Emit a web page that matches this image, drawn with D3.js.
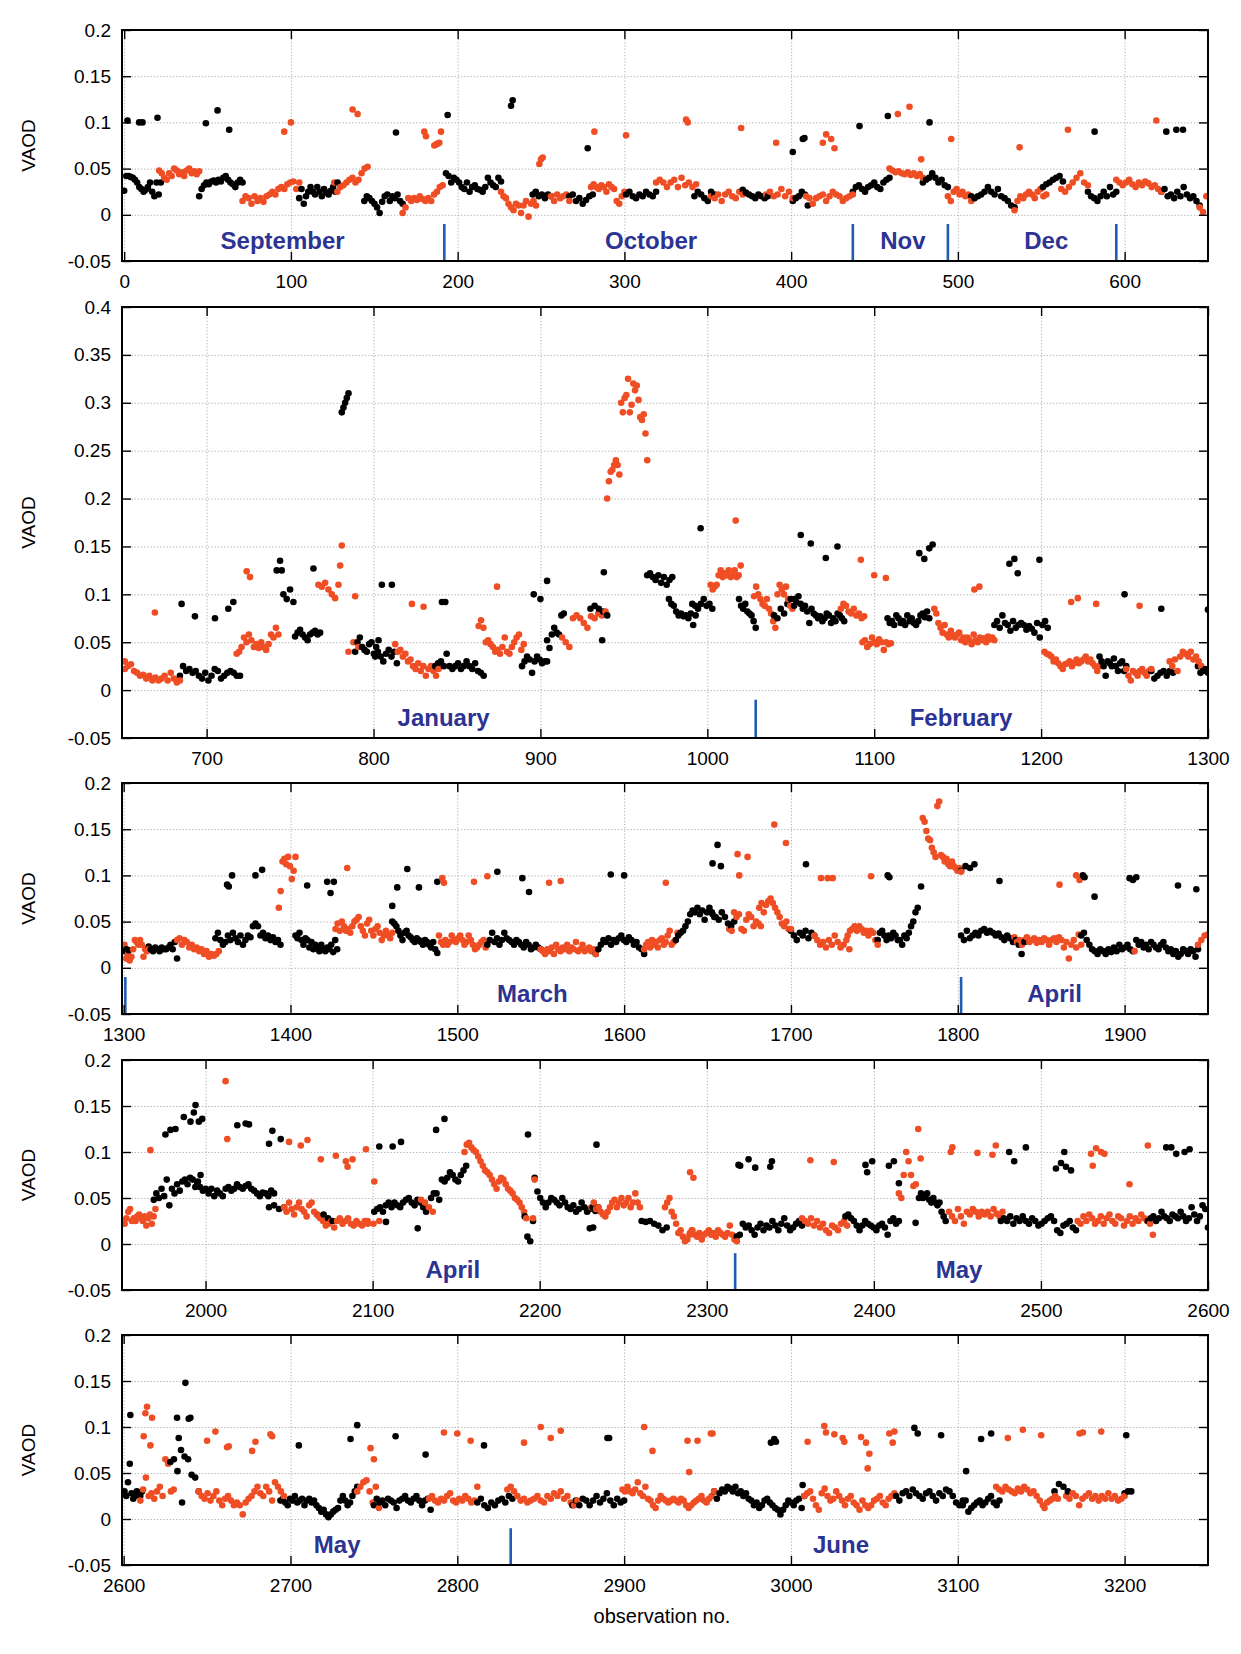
<!DOCTYPE html>
<html>
<head>
<meta charset="utf-8">
<script src="https://cdn.jsdelivr.net/npm/d3@7"></script>
<style>
  body { margin: 0; background: #fff; }
  text { font-family: "Liberation Sans", Arial, Helvetica, sans-serif; }
</style>
</head>
<body>
<svg id="chart"></svg>
<script>
// VAOD values are in thousandths. A run is [firstObs, lastObs, values spread over that span]
const blackRuns = [
  [0, 22, [26,42,42,41,40,38,35,30,28,25,27,30,35,25,20,35,22,35]],
  [45, 71, [20,28,32,35,33,36,37,35,38,36,40,42,38,35,33,30,35,38,35]],
  [105, 128, [18,28,12,20,25,30,25,22,30,25,20,28,24,22,26,30,25,35]],
  [144, 167, [15,20,18,15,12,8,2,14,20,22,15,20,18,22,15,12]],
  [193, 226, [45,42,35,40,38,35,30,28,35,25,30,32,28,27,25,30,40,35,32,30,40,36]],
  [245, 256, [22,25,20,22,18,22,20]],
  [267, 281, [20,22,15,18,12,16,20,22]],
  [301, 319, [22,25,20,18,22,20,25,22,20,25]],
  [342, 354, [20,25,22,18,15,25,22]],
  [371, 386, [27,24,22,20,18,22,20,18,20]],
  [401, 410, [15,18,20,25,22,10]],
  [437, 459, [25,30,32,28,25,30,32,35,30,28,35,38,40]],
  [479, 494, [35,38,40,45,40,35,38,32,30]],
  [508, 534, [20,18,20,22,25,30,25,22,28,20,18,15,10,8]],
  [551, 563, [30,33,35,38,40,42,36]],
  [578, 595, [25,20,18,15,20,25,20,30,22,25]],
  [622, 645, [25,28,20,22,18,25,20,30,22,18,20,15,10]],
  [684, 720, [15,25,20,22,18,20,15,12,18,10,15,22,20,12,15,18,20,18,15,15]],
  [746, 752, [100,95,105,92]],
  [753, 768, [56,60,63,58,55,52,58,60,62,58,60]],
  [789, 803, [40,50,55,45,42,40,48,50,38,45,52]],
  [801, 814, [35,40,35,30,38,42,35,40,28]],
  [837, 866, [25,28,30,25,38,25,22,25,28,22,25,30,25,22,28,20,18,15]],
  [889, 904, [25,30,35,32,18,30,35,32,28,30,30]],
  [904, 914, [52,44,58,65,60,58,78,80]],
  [930, 940, [85,88,85,82,78]],
  [964, 979, [120,122,118,115,120,112,118,110,115,118]],
  [977, 993, [95,90,88,82,78,80,77,78,75,80,68,78]],
  [991, 1003, [90,88,85,90,95,88,90,85]],
  [1019, 1029, [95,88,85,90,82,80,78,72,65]],
  [1040, 1052, [78,75,85,80,90,95,88]],
  [1052, 1082, [95,92,98,90,85,88,82,70,85,80,78,75,77,72,75,80,78,70,75,72,80,78,75,72]],
  [1108, 1133, [75,70,72,68,78,75,70,72,68,78,72,75,70,68,72,78,80,76,82,75]],
  [1172, 1204, [68,72,65,78,70,68,62,72,65,68,70,68,63,67,64,60,70,55,68,72,65]],
  [1235, 1251, [35,30,25,15,30,28,25,33,25,20,28,30,20,25]],
  [1266, 1279, [20,12,15,18,20,15,20,18]],
  [1294, 1300, [25,18,20,22,18]],
  [1300.5, 1303, [18,20,19]],
  [1315, 1332, [23,20,18,22,20,18,22,20,20,22,25,20,28,10]],
  [1355, 1394, [32,38,30,25,28,35,30,38,32,28,35,25,30,35,33,45,48,45,35,38,32,35,30,33,28,30,25]],
  [1403, 1428, [35,32,38,30,25,32,30,22,28,20,25,22,18,25,20,18,22,20,25,17,30,20]],
  [1461, 1488, [50,48,45,40,35,30,38,40,35,33,30,28,32,30,28,25,30,28,25,22,28,20,16]],
  [1518, 1550, [25,30,38,28,32,25,30,38,32,30,28,25,30,28,25,22,28,25,20,22,25,22,20]],
  [1583, 1612, [15,20,25,30,28,32,25,30,28,32,35,30,28,33,30,25,28,22,20,15]],
  [1631, 1654, [30,35,38,40,45,50,58,62,60,65,58,62,52,60,65,60,55]],
  [1653, 1666, [58,55,52,60,55,48,45,50]],
  [1700, 1714, [40,35,30,38,35,40,32,38,35]],
  [1752, 1776, [30,38,40,35,30,35,32,38,35,30,30,25,35,32,38,45,50,60,65]],
  [1802, 1810, [105,110,108,112]],
  [1802, 1840, [35,30,40,32,35,38,35,40,42,38,40,38,35,37,33,30,35,32,28,30,25,15,28]],
  [1874, 1905, [35,38,30,25,20,18,15,20,18,15,20,17,22,18,25,20,22,25,20,18]],
  [1907, 1944, [30,25,28,22,25,20,28,25,22,20,25,28,22,18,20,15,18,12,15,20,18,15,20,18,12,20]],
  [1969, 1997, [48,55,50,60,52,70,42,60,55,65,58,68,70,65,72,70,62,68,75]],
  [1995, 2041, [65,62,58,60,55,60,52,58,55,52,60,62,58,60,65,62,60,63,65,60,58,55,52,56,55,52,58,55]],
  [2038, 2047, [40,42,38,40]],
  [2068, 2076, [30,32,28,25]],
  [2101, 2132, [35,38,40,35,42,45,40,45,42,40,45,48,50,45,42,48,45,40,35]],
  [2135, 2156, [50,55,55,48,70,68,72,78,75,70,68,75,80,85]],
  [2191, 2196, [30,8,3,25]],
  [2197, 2235, [72,57,50,45,40,45,50,48,45,42,50,45,40,38,42,35,38,45,40,35,38,40,36,40]],
  [2261, 2276, [25,24,25,22,20,15,18]],
  [2318, 2357, [8,10,22,18,20,15,10,18,22,15,20,18,25,20,15,22,28,20,15,18,22,25,20]],
  [2383, 2415, [30,32,28,25,20,15,20,25,22,20,18,15,20,22,18,10,25,28,22,25]],
  [2427, 2443, [50,55,50,52,55,48,45,50,45,42,45,35,30,25]],
  [2476, 2521, [25,28,25,30,22,28,25,30,25,22,28,25,20,22,25,28,30,25,15,12,20,22,25,18,15]],
  [2564, 2600, [25,28,30,25,28,35,30,28,25,32,30,28,35,30,25,28,40,32,25,30,42,38,18]],
  [2600.5, 2611, [30,25,40,60,28,22,25,30,28,25,30]],
  [2628, 2645, [62,65,52,75,68,65,48,45,30]],
  [2694, 2740, [20,22,18,15,22,20,25,18,20,22,15,20,22,18,20,15,12,8,10,5,2,5,8,10,12,20,25,20,15,18,25,30,35]],
  [2750, 2784, [15,22,18,20,15,22,20,18,12,20,22,25,20,18,22,25,20,15,20,22,10]],
  [2812, 2833, [18,22,15,12,18,15,20,22,18,25,22]],
  [2869, 2900, [15,20,15,22,20,15,20,25,18,22,28,20,15,22,18,20]],
  [2954, 3008, [30,22,28,32,30,35,33,30,35,28,30,25,28,22,20,15,18,12,15,20,22,18,15,12,10,5,10,15,20,18,15,20,22,12,25]],
  [3063, 3103, [25,20,28,30,25,32,28,25,22,28,30,25,20,28,25,32,30,25,18,15,20]],
  [3103, 3125, [15,20,8,12,15,18,20,15,18,22,25,18,15,20]],
  [3158, 3166, [30,38,35,30]],
  [3200, 3204, [28,30,30]]
];

const redRuns = [
  [21, 45, [48,45,40,38,45,42,50,48,44,46,42,48,50,45,47,44,47]],
  [71, 105, [15,20,18,12,20,15,18,14,20,22,25,22,28,30,28,33,35,36,28,35]],
  [126, 146, [35,25,30,32,35,38,40,35,38,45,50,52]],
  [167, 191, [2,8,18,15,18,16,20,17,15,18,15,22,25,30,32]],
  [226, 247, [25,20,18,12,8,5,12,10,2,10,15,-2,12,15,10]],
  [256, 267, [20,15,22,18,20,22,15]],
  [280, 300, [30,33,30,28,32,30,25,33,30,28,15,12,20,25]],
  [319, 343, [35,38,35,30,35,38,30,40,32,35,30,33]],
  [352, 371, [20,18,22,15,22,25,20,18,25,22]],
  [385, 401, [22,25,20,22,28,20,25,18]],
  [409, 437, [20,18,12,18,20,22,15,20,25,22,20,15,18,20,22]],
  [459, 479, [50,48,46,47,45,44,46,43,45,42,44,40]],
  [494, 508, [20,15,25,28,22,25,20,22,15]],
  [534, 553, [5,15,20,18,22,25,22,18,25,28,20,22]],
  [562, 578, [28,25,30,35,40,45,35,32]],
  [595, 622, [38,35,32,35,38,33,30,35,32,36,34,30,32,28,25]],
  [645, 651, [8,3,20,30]],
  [651, 684, [22,25,27,20,18,15,16,12,15,10,13,10,12,15,10,18,12,8,10]],
  [718, 743, [38,40,45,55,50,58,52,45,48,44,50,45,42,48,58,55,65,58]],
  [767, 779, [110,108,112,105,100,96,110]],
  [785, 791, [40,50,45]],
  [813, 839, [48,40,42,35,38,30,32,25,22,28,20,25,15,22,25,20,15,22]],
  [863, 890, [67,73,65,50,52,48,45,40,42,38,45,55,40,38,45,50,55,58,42,48]],
  [913, 939, [55,50,45,75,78,75,70,65,77,75,80,78,82]],
  [940, 964, [200,218,228,230,235,240,235,225,300,290,305,308,325,290,298,320,313,318,303,285,282,288,268,240]],
  [1002, 1020, [110,105,108,110,120,125,118,122,120,125,118,120,125,118,120,130]],
  [1028, 1051, [98,108,100,95,90,88,95,85,80,72,65,100,110,105,100,108,95,88,85]],
  [1080, 1094, [85,90,88,82,80,85,78,80,75,77]],
  [1093, 1110, [50,52,45,48,55,50,48,53,50,42,50,48,49]],
  [1136, 1172, [85,80,70,65,60,68,58,55,62,57,55,58,60,52,55,50,55,52,48,58,52,50,55,52,54,50,56,53,55,52]],
  [1202, 1235, [40,38,37,35,30,32,28,25,22,27,28,30,25,28,32,28,30,32,35,30,32,28,25,20,25]],
  [1251, 1266, [22,15,10,20,18,15,20,22,18,15,20,22]],
  [1277, 1296, [30,25,32,20,35,40,38,35,40,32,35,30,25]],
  [1300.5, 1315, [25,10,15,8,12,20,30,28,25,30,25,12,20,18,20]],
  [1332, 1357, [30,32,25,30,28,22,25,20,22,18,20,15,18,12,15,13,15,18]],
  [1393, 1403, [65,83,115,118,112,120,110,96,105,120]],
  [1427, 1461, [42,48,40,50,45,40,42,38,45,50,52,55,45,40,35,48,52,40,35,42,45,38,30,35,40,35,32,38]],
  [1489, 1517, [35,28,25,30,25,28,35,30,28,32,35,30,25,28,35,30,25,20,22,25,28,30,22]],
  [1550, 1583, [20,18,15,20,18,22,15,25,20,18,22,20,25,18,22,20,28,18,20,25,18,20,22,18,20,15]],
  [1612, 1632, [20,25,28,22,30,25,28,22,30,32,25,28,35,40,25,28,30,38]],
  [1663, 1682, [42,40,60,55,58,42,40,52,58,55,45,50,48,45]],
  [1681, 1700, [65,70,60,68,72,75,70,65,60,55,48,45,50,42,42]],
  [1714, 1735, [35,30,25,28,22,30,25,35,28,22,25,30,20]],
  [1734, 1752, [35,40,42,45,40,45,42,38,40,35,40,38,30,25]],
  [1779, 1802, [162,158,148,140,138,130,125,120,175,180,122,120,115,118,112,110,115,110,108,105,108,104]],
  [1834, 1874, [33,28,30,25,30,33,28,30,32,27,30,28,32,30,25,30,32,28,33,30,22,28,10,25,30,22,36,25]],
  [1944, 1950, [25,30,35,36]],
  [1950.5, 1970, [25,22,28,35,38,25,28,25,30,32,28,25,30,20,28,32,22,30,38]],
  [2047, 2068, [40,35,45,38,32,40,45,38,35,30,42,45,35,32,30]],
  [2067, 2097, [32,28,25,20,22,25,18,25,28,22,25,28,22,20,25,22,20,25,22]],
  [2097, 2104, [25,22,25]],
  [2129, 2136, [48,45,40,35]],
  [2155, 2192, [100,108,110,105,102,100,95,90,85,80,78,75,70,65,60,68,72,70,65,60,58,55,50,48,45,40,35,28]],
  [2231, 2260, [40,45,38,40,35,32,30,35,40,45,48,40,45,50,42,45,50,40,45,55,45,40]],
  [2275, 2291, [40,45,50,35,30,22,12,15,8,3,5,10,15]],
  [2290, 2318, [12,15,10,8,12,5,10,12,15,10,12,8,15,12,10,8,12,20,10,5,3]],
  [2357, 2384, [28,25,22,28,20,25,18,22,15,12,20,18,15,22,25,20]],
  [2415, 2428, [55,50,75,100,90,75,63,65,125,93]],
  [2445, 2477, [35,30,25,38,30,22,35,32,38,35,30,35,32,35,30,38,33,30,35]],
  [2522, 2567, [25,22,30,25,32,28,22,25,30,22,28,32,25,22,30,28,20,25,30,22,28,25,32,28,25,22,10]],
  [2610, 2630, [20,32,45,25,28,22,30,35,25,65,60,30,32]],
  [2645, 2696, [30,25,22,28,20,25,30,20,15,22,25,20,15,18,15,5,18,22,25,30,35,28,25,35,30,20,40,35,30,25]],
  [2740, 2753, [30,35,40,42,30,18,35,12]],
  [2783, 2812, [22,25,20,18,22,20,25,28,20,18,22,20,25,22,18,20,35]],
  [2830, 2872, [32,35,30,25,20,22,18,20,22,25,20,18,25,22,28,25,30,22,25,18,15,20]],
  [2899, 2954, [32,30,35,30,28,32,40,28,25,35,22,20,15,12,20,25,22,20,18,20,22,20,18,22,20,15,12,15,18,20,22,25,20,18,22,25,30]],
  [3008, 3062, [25,28,30,22,15,10,28,33,25,20,22,30,25,20,15,22,25,18,15,10,20,15,12,15,20,22,25,18,15,22,25,28]],
  [3123, 3151, [35,32,30,35,32,30,28,33,30,35,32,28,30,25,20,15]],
  [3152, 3160, [12,18,20,22,25,22]],
  [3165, 3200, [25,22,28,25,15,22,25,28,22,25,20,25,22,28,22,25,20,22,25]]
];

// isolated observations: [obs, value in thousandths]
const blackSpikes = [
  [2,102],[9,100],[11,100],[20,105],[49,99],[56,113],[63,92],[163,89],[194,108],[232,118],[233,124],
  [278,72],[401,68],[407,82],[408,83],[441,96],[458,107],[483,100],[582,90],[625,90],[631,92],[635,92],
  [685,90],[693,77],[705,75],[713,85],[716,92],[742,125],[744,135],[745,125],[764,127],
  [781,290],[782,295],[783,300],[784,305],[785,310],[805,110],[811,110],[841,92],[843,92],
  [896,100],[900,95],[904,114],[937,52],[938,123],[996,169],[1056,162],[1062,153],[1071,138],[1078,150],
  [1127,143],[1130,137],[1133,148],[1135,152],[1181,132],[1184,137],[1186,122],[1199,136],
  [1250,100],[1272,85],[1300,84],
  [1362,90],[1363,88],[1365,100],[1379,100],[1383,106],[1410,89],[1422,93],[1424,81],[1426,93],
  [1461,67],[1464,87],[1470,107],[1477,87],[1488,93],[1524,104],[1539,97],[1543,82],[1592,101],[1600,100],
  [1653,113],[1656,133],[1658,110],[1709,112],[1758,100],[1759,98],[1778,88],[1825,94],
  [1875,100],[1876,98],[1882,77],[1903,97],[1905,95],[1907,98],[1932,89],[1943,85],
  [1976,119],[1979,124],[1982,125],[1987,138],[1991,133],[1993,143],[1994,151],[1996,133],[1998,136],
  [2019,129],[2024,131],[2026,130],[2038,109],[2040,123],[2045,114],[2104,106],[2108,24],[2112,106],
  [2117,111],[2127,17],[2138,124],[2143,136],[2193,119],[2230,17],[2232,18],[2234,108],
  [2319,86],[2320,85],[2325,92],[2329,83],[2338,84],[2339,90],[2395,86],[2396,78],[2399,90],
  [2409,85],[2412,90],[2415,66],[2425,23],[2481,100],[2484,90],[2491,105],[2509,82],[2512,88],
  [2514,100],[2515,84],[2518,80],[2575,105],[2578,105],[2581,98],[2586,100],[2589,103],
  [2604,113],[2632,110],[2633,88],[2635,18],[2637,148],[2639,109],[2640,110],[2705,80],[2736,87],
  [2740,102],[2763,90],[2781,70],[2816,80],[2890,88],[2891,88],[2988,83],[2990,87],[2991,84],
  [3007,37],[3074,99],[3076,93],[3090,91],[3105,52],[3114,87],[3120,93],[3201,91]
];

const redSpikes = [
  [96,90],[100,100],[137,114],[140,109],[180,90],[181,85],[186,75],[187,76],[188,77],[189,78],[190,90],
  [249,55],[250,60],[251,62],[282,90],[301,86],[337,103],[338,100],[370,94],[391,78],[419,78],[421,87],
  [424,82],[426,72],[464,109],[471,117],[478,60],[496,82],[537,73],[566,92],[619,102],
  [669,81],[724,124],[726,118],[780,130],[781,151],[789,98],[823,90],[830,87],[874,108],[1017,177],
  [1092,136],[1100,120],[1107,117],[1160,105],[1163,108],[1218,92],[1222,96],[1233,90],[1259,88],
  [1434,108],[1491,97],[1492,92],[1510,93],[1518,99],[1555,92],[1562,94],[1625,92],[1668,123],[1669,100],
  [1674,120],[1690,155],[1697,135],[1718,97],[1722,97],[1725,97],[1748,99],[1861,90],[1871,100],
  [1873,95],[1906,18],
  [1967,102],[2012,177],[2013,114],[2050,111],[2057,107],[2061,113],[2069,92],[2078,96],[2084,90],
  [2085,84],[2088,92],[2096,103],[2101,68],[2196,28],[2197,70],[2290,78],[2292,72],[2362,91],[2376,89],
  [2446,100],[2447,105],[2462,99],[2471,97],[2473,107],[2530,98],[2531,85],[2533,104],[2536,100],
  [2538,98],[2553,65],[2564,107],
  [2612,90],[2613,115],[2614,122],[2616,80],[2617,110],[2650,85],[2655,95],[2662,78],[2663,79],
  [2677,74],[2679,84],[2688,92],[2689,90],[2748,77],[2750,65],[2792,94],[2800,93],[2808,85],[2840,83],
  [2850,100],[2856,88],[2862,96],[2912,100],[2917,74],[2938,85],[2939,51],[2944,85],[2952,93],[2953,93],
  [3010,84],[3020,101],[3021,94],[3026,92],[3031,88],[3032,84],[3042,89],[3045,83],[3046,55],[3047,71],
  [3059,93],[3061,83],[3062,95],[3130,88],[3139,97],[3150,91],[3173,93],[3175,94],[3186,95]
];

// panel axes
const xDomains = [[-1.3, 650], [649.3, 1300], [1299, 1950], [1950, 2600], [2599, 3250]];
const panelEnds = [650, 1300, 1950, 2600, 3250];
const xTickValues = [
  [0, 100, 200, 300, 400, 500, 600],
  [700, 800, 900, 1000, 1100, 1200, 1300],
  [1300, 1400, 1500, 1600, 1700, 1800, 1900],
  [2000, 2100, 2200, 2300, 2400, 2500, 2600],
  [2600, 2700, 2800, 2900, 3000, 3100, 3200]
];
const yMaxes = [0.2, 0.4, 0.2, 0.2, 0.2];

// month boundaries and labels (observation no.)
const monthBreaks = [192, 437, 494, 595, 1029, 1301, 1802, 2317, 2832];
const monthNames = ["September", "October", "Nov", "Dec", "January", "February", "March", "April", "April", "May", "May", "June"];
const monthCenters = [95, 316, 467, 553, 842, 1152, 1545, 1858, 2148, 2451, 2728, 3030];

const W = 1241, H = 1654;
const left = 122, right = 1208;
const tops = [30, 307, 783, 1060, 1335];
const bottoms = [261, 738, 1014, 1290, 1565];
const RED = "#ef4e25", BLACK = "#000";

function expand(runs, color) {
  const pts = [];
  runs.forEach(([a, b, vals]) => {
    vals.forEach((v, i) => {
      const obs = vals.length > 1 ? a + i * (b - a) / (vals.length - 1) : a;
      pts.push({ obs, v: v / 1000, color });
    });
  });
  return pts;
}
const points = expand(blackRuns, BLACK)
  .concat(expand(redRuns, RED))
  .concat(blackSpikes.map(([o, v]) => ({ obs: o, v: v / 1000, color: BLACK })))
  .concat(redSpikes.map(([o, v]) => ({ obs: o, v: v / 1000, color: RED })))
  .sort((a, b) => a.obs - b.obs);

const svg = d3.select("#chart").attr("width", W).attr("height", H);
svg.append("rect").attr("width", W).attr("height", H).attr("fill", "#fff");

const fmt = d => d === 0 ? "0" : String(+d.toFixed(2));

xDomains.forEach((dom, i) => {
  const top = tops[i], bottom = bottoms[i];
  const x = d3.scaleLinear().domain(dom).range([left, right]);
  const y = d3.scaleLinear().domain([-0.05, yMaxes[i]]).range([bottom, top]);
  const yTicks = d3.range(0, Math.round((yMaxes[i] + 0.05) / 0.05) + 1).map(k => +(-0.05 + k * 0.05).toFixed(2));
  const lo = i === 0 ? -Infinity : panelEnds[i - 1];
  const g = svg.append("g");

  // dotted grid
  g.append("g")
    .attr("transform", `translate(0,${bottom})`)
    .call(d3.axisBottom(x).tickValues(xTickValues[i]).tickSize(-(bottom - top)).tickFormat(""))
    .call(s => s.select(".domain").remove())
    .selectAll("line").attr("stroke", "#9a9a9a").attr("stroke-width", 0.8).attr("stroke-dasharray", "1.2,2");
  g.append("g")
    .attr("transform", `translate(${left},0)`)
    .call(d3.axisLeft(y).tickValues(yTicks).tickSize(-(right - left)).tickFormat(""))
    .call(s => s.select(".domain").remove())
    .selectAll("line").attr("stroke", "#9a9a9a").attr("stroke-width", 0.8).attr("stroke-dasharray", "1.2,2");

  // month separators and names
  g.append("g").selectAll("line")
    .data(monthBreaks.filter(m => m >= dom[0] && m <= dom[1]))
    .join("line")
    .attr("x1", d => x(d)).attr("x2", d => x(d))
    .attr("y1", y(-0.01)).attr("y2", y(-0.05))
    .attr("stroke", "#1f5cb3").attr("stroke-width", 2.6);
  g.append("g").selectAll("text")
    .data(monthNames.map((n, k) => ({ n, c: monthCenters[k] })).filter(d => d.c >= dom[0] && d.c <= dom[1]))
    .join("text")
    .attr("x", d => x(d.c)).attr("y", bottom - 12)
    .attr("text-anchor", "middle")
    .attr("font-size", 24).attr("font-weight", "bold").attr("fill", "#2c3392")
    .text(d => d.n);

  // points
  const clipId = "clip" + i;
  svg.append("clipPath").attr("id", clipId)
    .append("rect").attr("x", left).attr("y", top).attr("width", right - left).attr("height", bottom - top);
  g.append("g").attr("clip-path", `url(#${clipId})`)
    .selectAll("circle")
    .data(points.filter(p => p.obs > lo && p.obs <= panelEnds[i]))
    .join("circle")
    .attr("cx", d => x(d.obs)).attr("cy", d => y(d.v))
    .attr("r", 3.3).attr("fill", d => d.color);

  // axes with inward ticks
  g.append("g").attr("transform", `translate(0,${bottom})`)
    .call(d3.axisBottom(x).tickValues(xTickValues[i]).tickSize(-9).tickPadding(13.5).tickFormat(d3.format("d")));
  g.append("g").attr("transform", `translate(0,${top})`)
    .call(d3.axisTop(x).tickValues(xTickValues[i]).tickSize(-9).tickFormat(""));
  g.append("g").attr("transform", `translate(${left},0)`)
    .call(d3.axisLeft(y).tickValues(yTicks).tickSize(-9).tickPadding(11).tickFormat(fmt));
  g.append("g").attr("transform", `translate(${right},0)`)
    .call(d3.axisRight(y).tickValues(yTicks).tickSize(-9).tickFormat(""));
  g.selectAll(".domain").remove();
  g.selectAll(".tick line").filter(function () { return this.getAttribute("stroke-dasharray") === null; })
    .attr("stroke", "#000").attr("stroke-width", 1.4);
  g.selectAll(".tick text").attr("font-size", 19).attr("fill", "#000")
    .attr("font-family", "'Liberation Sans', Arial, sans-serif");

  g.append("rect").attr("x", left).attr("y", top)
    .attr("width", right - left).attr("height", bottom - top)
    .attr("fill", "none").attr("stroke", "#000").attr("stroke-width", 2);

  g.append("text")
    .attr("transform", `translate(28,${(top + bottom) / 2}) rotate(-90)`)
    .attr("text-anchor", "middle").attr("dominant-baseline", "central")
    .attr("font-size", 19).text("VAOD");
});

svg.append("text").attr("x", 662).attr("y", 1623)
  .attr("text-anchor", "middle").attr("font-size", 20).text("observation no.");
</script>
</body>
</html>
